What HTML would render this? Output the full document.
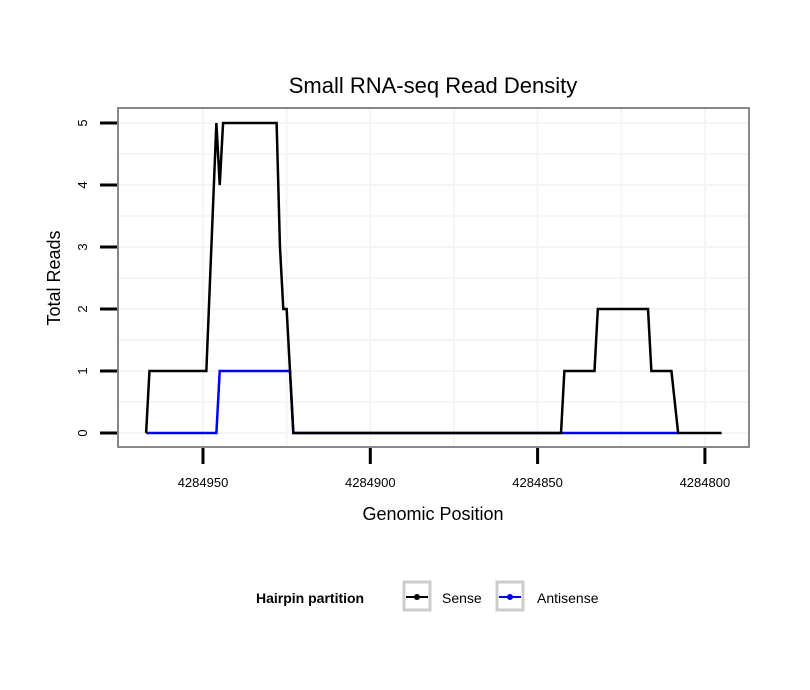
<!DOCTYPE html>
<html><head><meta charset="utf-8"><style>
html,body{margin:0;padding:0;background:#fff;overflow:hidden;font-family:"Liberation Sans",sans-serif}
svg{display:block}
</style></head><body>
<svg id="chart" width="810" height="690" xmlns="http://www.w3.org/2000/svg" font-family="Liberation Sans, sans-serif">
<rect width="810" height="690" fill="#fff"/>
<text x="433" y="93" font-size="22" text-anchor="middle">Small RNA-seq Read Density</text>
<g id="grid"></g>
<g id="series"></g>
<rect x="118" y="108" width="631" height="339" fill="none" stroke="#888" stroke-width="2"/>
<g id="axes"></g>
<text x="433" y="520" font-size="18" text-anchor="middle">Genomic Position</text>
<text transform="translate(60,278) rotate(-90)" font-size="18" text-anchor="middle">Total Reads</text>
<g>
<text x="256" y="603" font-size="14" font-weight="bold">Hairpin partition</text>
<g>
<rect x="404" y="582" width="26" height="28" fill="none" stroke="#ccc" stroke-width="3"/>
<line x1="406" y1="597" x2="428" y2="597" stroke="#000" stroke-width="2"/><circle cx="417" cy="597" r="3" fill="#000"/>
<text x="442" y="603" font-size="14">Sense</text></g>
<g>
<rect x="497" y="582" width="26" height="28" fill="none" stroke="#ccc" stroke-width="3"/>
<line x1="499" y1="597" x2="521" y2="597" stroke="#00f" stroke-width="2"/><circle cx="510" cy="597" r="3" fill="#00f"/>
<text x="537" y="603" font-size="14">Antisense</text></g>
</g>
</svg>
<script>
const senseX=[4284967,4284966,4284949,4284947.5,4284946,4284945,4284944,4284928,4284927,4284926,4284925,4284923,4284843,4284842,4284833,4284832,4284817,4284816,4284810,4284808,4284795];
const senseY=[0,1,1,3,5,4,5,5,3,2,2,0,0,1,1,2,2,1,1,0,0];
const antiX=[4284967,4284946,4284945,4284924,4284923,4284808];
const antiY=[0,0,1,1,0,0];
const xTicks=[4284950,4284900,4284850,4284800];
const yTicks=[0,1,2,3,4,5];
const NS="http://www.w3.org/2000/svg";
function xs(v){return 203+(4284950-v)*(167.3/50);}
function ys(v){return 433-v*62;}
function mk(t,a,p){const e=document.createElementNS(NS,t);for(const k in a)e.setAttribute(k,a[k]);p.appendChild(e);return e;}
const grid=document.getElementById('grid'),axes=document.getElementById('axes'),ser=document.getElementById('series');
for(let i=0;i<xTicks.length;i++){
  for(const v of [xTicks[i],xTicks[i]-25]){
    const px=xs(v);
    if(px<=119||px>=748)continue;
    const g=mk('line',{x1:px,x2:px,y1:108,y2:447,stroke:'#f5f5f5','stroke-width':2},grid);
    
    
  }
  const t=mk('line',{x1:xs(xTicks[i]),x2:xs(xTicks[i]),y1:448,y2:464,stroke:'#000','stroke-width':3},axes);
  
  
  const l=mk('text',{x:xs(xTicks[i]),y:487,'font-size':13,'text-anchor':'middle'},axes);
  l.textContent=xTicks[i];
  
  
}
for(let i=0;i<yTicks.length;i++){
  for(const v of [yTicks[i],yTicks[i]+0.5]){
    const py=ys(v);
    if(py<=109||py>=446)continue;
    const g=mk('line',{x1:118,x2:749,y1:py,y2:py,stroke:'#f5f5f5','stroke-width':2},grid);
    
    
  }
  const t=mk('line',{x1:100,x2:117,y1:ys(yTicks[i]),y2:ys(yTicks[i]),stroke:'#000','stroke-width':3},axes);
  
  
  const l=mk('text',{transform:`translate(87,${ys(yTicks[i])}) rotate(-90)`,'font-size':13,'text-anchor':'middle'},axes);
  l.textContent=yTicks[i];
  
  
}
function pts(X,Y){return X.map((v,i)=>xs(v)+','+ys(Y[i])).join(' ');}
const a=mk('polyline',{points:pts(antiX,antiY),fill:'none',stroke:'#00f','stroke-width':2.5},ser);


const s=mk('polyline',{points:pts(senseX,senseY),fill:'none',stroke:'#000','stroke-width':2.5},ser);


</script>
</body></html>
